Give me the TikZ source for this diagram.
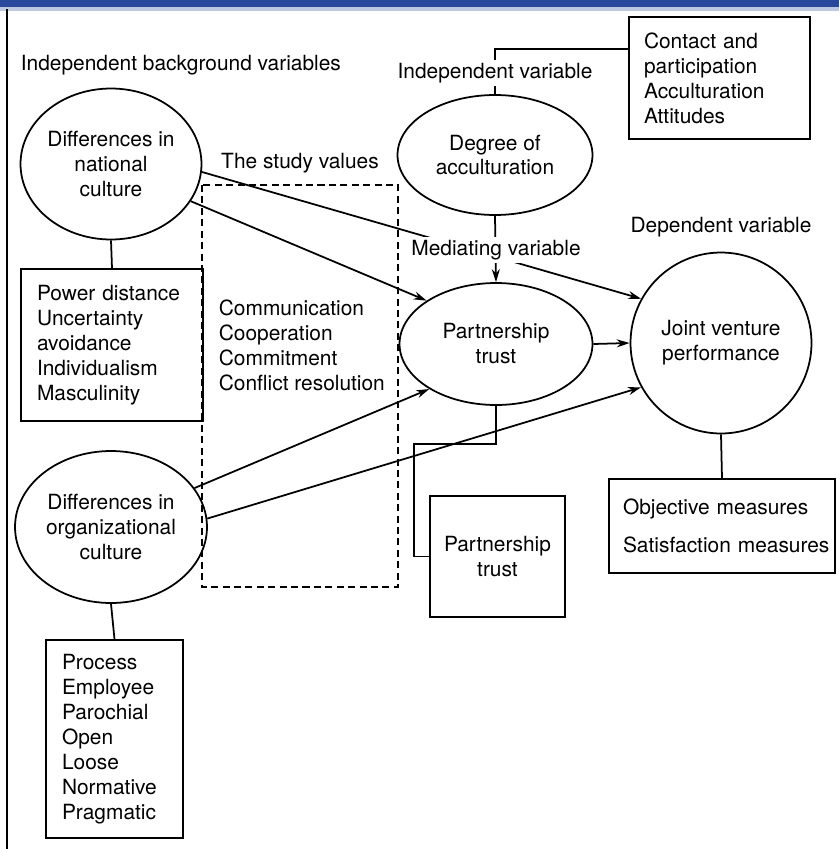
\documentclass[tikz,border=0pt]{standalone}
\usepackage{fontspec}
\setmainfont{TeX Gyre Heros}
\usetikzlibrary{shapes, arrows.meta}
\definecolor{scanblue}{RGB}{40,72,155}
\definecolor{scanedge}{RGB}{190,200,225}

\begin{document}
\begin{tikzpicture}[x=0.02cm, y=-0.02cm, line width=1pt, font=\fontsize{11.9}{14.2}\selectfont,
  var/.style={draw, ellipse, align=center, inner sep=0pt},
  list/.style={draw, rectangle, align=left, inner xsep=0.32cm},
  arr/.style={-{Stealth[length=2.6mm, width=1.6mm]}},
  lbl/.style={fill=white, inner sep=2pt}];

\useasboundingbox (0,0) rectangle (839,849);
% page edge of the scan
\fill[scanblue] (0,0) rectangle (839,7);
\fill[scanedge] (0,7) rectangle (839,11);
\draw[line width=1.2pt] (7,9) -- (7,849);

% variables
\node[var, minimum width=3.62cm, minimum height=3.02cm] (nat) at (111,164) {Differences in\\national\\culture};
\node[var, minimum width=3.84cm, minimum height=3.04cm] (org) at (111,527) {Differences in\\organizational\\culture};
\node[var, minimum width=3.9cm, minimum height=2.4cm] (deg) at (495,155) {Degree of\\acculturation};
\node[var, minimum width=3.86cm, minimum height=2.44cm] (pt) at (496,344) {Partnership\\trust};
\node[draw, circle, align=center, minimum size=3.62cm, inner sep=0pt] (jv) at (721,343) {Joint venture\\performance};

% measures
\node[list, text width=3.0cm, minimum height=3.04cm] (natbox) at (112,345)
  {Power distance\\Uncertainty\\avoidance\\Individualism\\Masculinity};
\node[list, text width=2.1cm, minimum height=3.96cm] (orgbox) at (114.5,739)
  {Process\\Employee\\Parochial\\Open\\Loose\\Normative\\Pragmatic};
\node[list, inner xsep=0.3cm, text width=3.02cm, minimum height=2.44cm] (contact) at (719.5,78)
  {Contact and\\participation\\Acculturation\\Attitudes};
\node[list, inner xsep=0.28cm, text width=3.96cm, minimum height=1.88cm] (jvbox) at (722,526)
  {\mbox{Objective measures}\\[0.26cm]\mbox{Satisfaction measures}};
\node[draw, rectangle, align=center, minimum width=2.7cm, minimum height=2.42cm] (ptbox) at (497.5,556.5)
  {Partnership\\trust};

% study values
\draw[dashed, dash pattern=on 4pt off 2.5pt] (202,185) rectangle (398,587);
\node[inner sep=0pt] (study) at (300,163) {The study values};
\node[anchor=west, align=left, inner sep=0pt] (values) at (218,345)
  {Communication\\Cooperation\\Commitment\\Conflict resolution};

% connectors
\draw (nat.south) -- (natbox.north);
\draw (org.south) -- (orgbox.north);
\draw (jv.south) -- (jvbox.north);
\draw (deg.north) |- ([yshift=0.58cm]contact.west);
\draw (pt.south) -- ++(0,38) -| ([xshift=-0.3cm]ptbox.west) -- (ptbox.west);
\draw[arr] (deg.south) -- (pt.north);
\draw[arr] (nat.-5) -- (jv.151);
\draw[arr] (nat.-25) -- (pt.148);
\draw[arr] (org.25) -- (pt.214);
\draw[arr] (org.5) -- (jv.209);
\draw[arr] (pt.east) -- (jv.west);

% headings
\node[anchor=west, inner sep=0pt] (bgvar) at (20,65) {Independent background variables};
\node[lbl] (indep) at (495,73) {Independent variable};
\node[lbl] (med) at (496,250) {Mediating variable};
\node[inner sep=0pt] (dep) at (721,227) {Dependent variable};
\end{tikzpicture}
\end{document}
